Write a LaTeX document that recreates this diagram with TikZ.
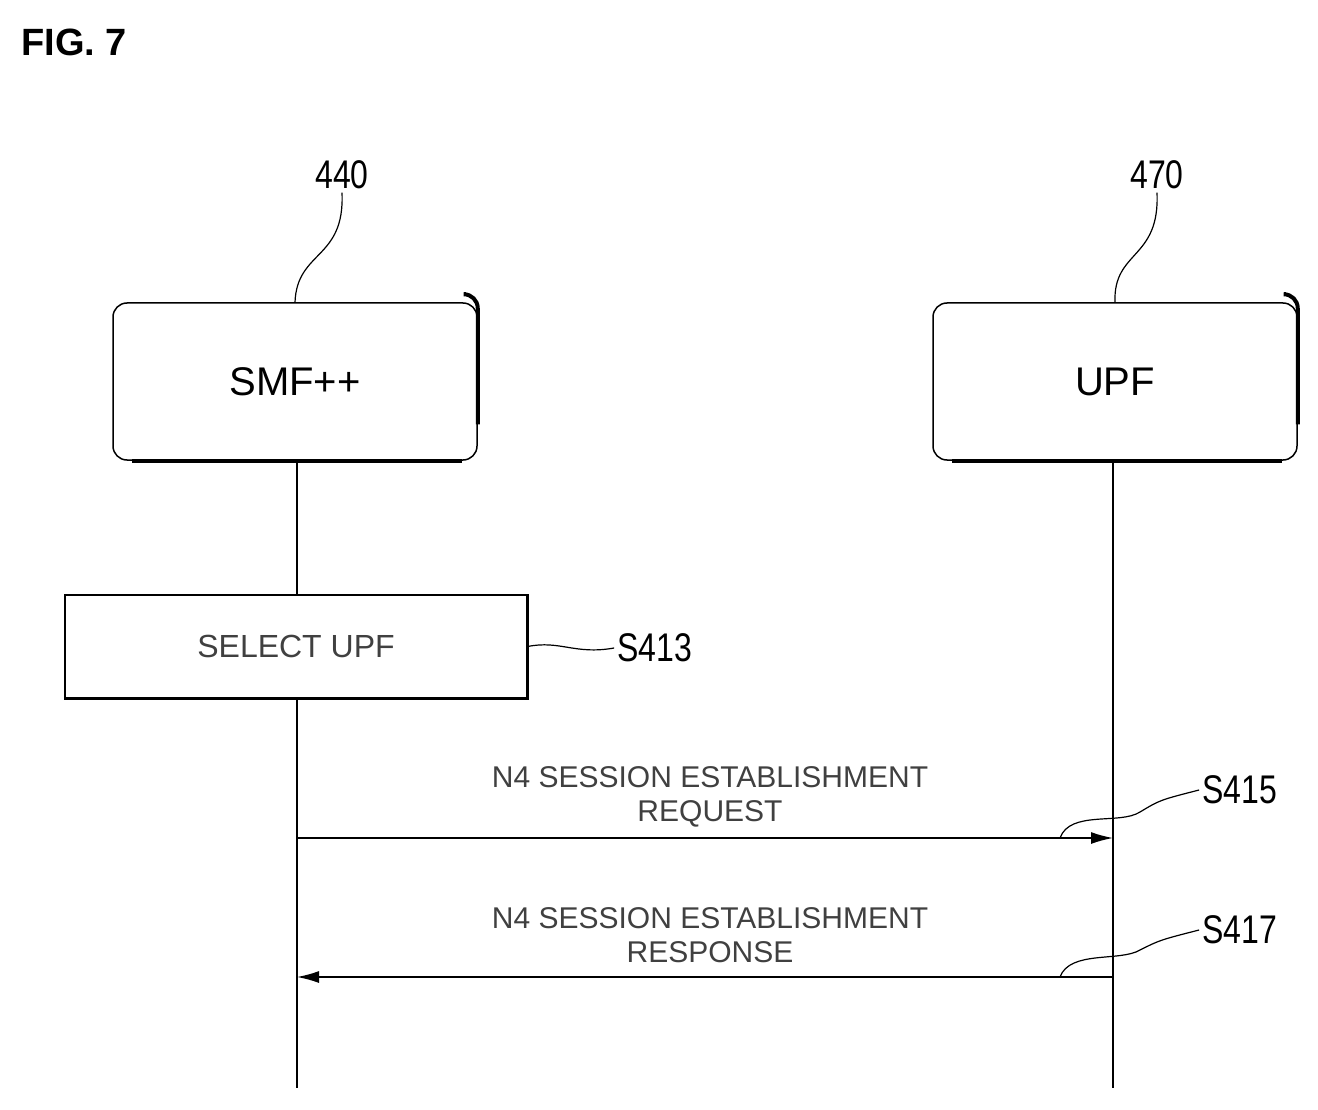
\documentclass[tikz,border=0pt]{standalone}
\usepackage{fontspec}
\setmainfont{Liberation Sans}
\usetikzlibrary{arrows.meta}
\begin{document}
\begin{tikzpicture}[x=1pt,y=-1pt,
 ent/.style={draw,line width=1.5pt,rounded corners=14pt,minimum width=364pt,minimum height=157pt,font=\fontsize{40}{40}\selectfont,inner sep=0},
 sh/.style={line width=4pt},
 lab/.style={font=\fontsize{40}{40}\selectfont\addfontfeature{FakeStretch=0.8}},
 msg/.style={font=\fontsize{30}{34}\selectfont,text=black!75,align=center},
 life/.style={line width=1.3pt},
 arr/.style={line width=1.5pt,-{Latex[length=22pt,width=12pt]}}]
\useasboundingbox (0,0) rectangle (1318,1110);
\node[font=\bfseries\fontsize{38}{38}\selectfont,anchor=west] (fig) at (18,42) {FIG. 7};
\node[ent] (smf) at (295,381.5) {SMF++};
\node[ent] (upf) at (1115,381.5) {UPF};
\draw[sh] ([xshift=-2pt]smf.south east) ++(-14,0) -- ++(-330,0);
\draw[sh,rounded corners=14pt] ([yshift=8pt]smf.north east) ++(-12,0) -- ++(12,0) -- ++(0,130) ;
\draw[sh,rounded corners=14pt] ([yshift=8pt]upf.north east) ++(-12,0) -- ++(12,0) -- ++(0,130) ;
\draw[sh] ([xshift=-2pt]upf.south east) ++(-14,0) -- ++(-330,0);
\node[lab] (n440) at (342,175) {440};
\node[lab] (n470) at (1157,175) {470};
\draw[line width=1.2pt] (smf.north) .. controls (297,250) and (345,260) .. (n440.south);
\draw[line width=1.2pt] (upf.north) .. controls (1113,250) and (1160,260) .. (n470.south);
\coordinate (smfb) at (297,1088);
\coordinate (upfb) at (1113,1088);
\draw[life] (297,460) -- (297,595);
\node[draw,line width=1.5pt,minimum width=462pt,minimum height=103pt,font=\fontsize{32}{32}\selectfont,text=black!75] (sel) at (296,646.5) {SELECT UPF};
\draw[line width=3pt] (sel.north east) -- (sel.south east) -- (sel.south west);
\draw[life] (sel.south -| smfb) -- (smfb);
\draw[life] (upf.south -| upfb) -- (upfb);
\node[lab] (s413) at (655,648) {S413};
\draw[line width=1.2pt] (sel.east) .. controls (560,640) and (575,655) .. (s413.west);
\coordinate (a1s) at (297,838); \coordinate (a1e) at (1113,838);
\draw[arr] (a1s) -- (a1e);
\node[msg] (m1) at (710,797) {N4 SESSION ESTABLISHMENT\\REQUEST};
\node[lab] (s415) at (1240,790) {S415};
\draw[line width=1.2pt] (1060,838) .. controls (1070,810) and (1120,825) .. (1140,812) .. controls (1160,800) .. (s415.west);
\coordinate (a2s) at (1113,977); \coordinate (a2e) at (297,977);
\draw[arr] (a2s) -- (a2e);
\node[msg] (m2) at (710,935) {N4 SESSION ESTABLISHMENT\\RESPONSE};
\node[lab] (s417) at (1240,930) {S417};
\draw[line width=1.2pt] (1060,977) .. controls (1070,950) and (1120,962) .. (1140,950) .. controls (1160,940) .. (s417.west);
\end{tikzpicture}
\end{document}
